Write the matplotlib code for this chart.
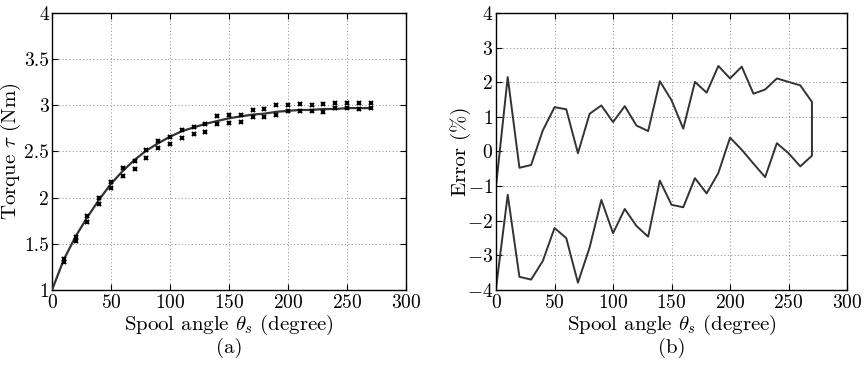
import numpy as np
import matplotlib
matplotlib.use("Agg")
import matplotlib.pyplot as plt

# 扭矩数据 (a)
angle = [0, 10, 20, 30, 40, 50, 60, 70, 80, 90, 100, 110, 120, 130,
         140, 150, 160, 170, 180, 190, 200, 210, 220, 230, 240, 250, 260, 270]
torque_model = [1.00, 1.33, 1.58, 1.79, 1.98, 2.15, 2.29, 2.41, 2.51, 2.59,
                2.66, 2.72, 2.76, 2.80, 2.83, 2.86, 2.88, 2.90, 2.91, 2.93,
                2.94, 2.95, 2.95, 2.96, 2.96, 2.97, 2.97, 2.97]
meas_angle = angle[1:]
torque_meas_hi = [1.34, 1.57, 1.80, 2.00, 2.17, 2.32, 2.40, 2.52, 2.61, 2.66,
                  2.73, 2.77, 2.80, 2.88, 2.89, 2.89, 2.95, 2.96, 3.00, 3.00,
                  3.01, 3.00, 3.01, 3.03, 3.03, 3.03, 3.02]
torque_meas_lo = [1.30, 1.53, 1.74, 1.93, 2.10, 2.23, 2.31, 2.43, 2.54, 2.58,
                  2.65, 2.69, 2.71, 2.80, 2.81, 2.82, 2.87, 2.87, 2.90, 2.94,
                  2.94, 2.94, 2.93, 2.97, 2.97, 2.96, 2.97]

# 误差数据 (b)
err_upper = [-1.00, 2.15, -0.47, -0.39, 0.61, 1.28, 1.22, -0.05, 1.09, 1.33,
             0.85, 1.31, 0.75, 0.59, 2.03, 1.48, 0.66, 2.01, 1.70, 2.47,
             2.11, 2.45, 1.67, 1.79, 2.11, 2.01, 1.91, 1.43]
err_lower = [-3.95, -1.25, -3.62, -3.70, -3.16, -2.21, -2.50, -3.79, -2.77, -1.40,
             -2.36, -1.66, -2.15, -2.46, -0.84, -1.54, -1.61, -0.77, -1.21, -0.62,
             0.40, 0.05, -0.35, -0.74, 0.24, -0.05, -0.43, -0.12]

plt.rcParams['font.family'] = 'cmr10'
plt.rcParams['mathtext.fontset'] = 'cm'
plt.rcParams['axes.formatter.use_mathtext'] = True
plt.rcParams['font.size'] = 15

fig = plt.figure(figsize=(8.64, 3.77), dpi=100)
ax1 = fig.add_axes([0.0602, 0.2308, 0.4097, 0.7347])
ax2 = fig.add_axes([0.5741, 0.2308, 0.4063, 0.7347])

line_col = '#333333'

ax1.plot(angle, torque_model, color=line_col, lw=1.6, zorder=3)
ax1.plot(meas_angle, torque_meas_hi, 'x', color='black', ms=3.5, mew=1.5, zorder=4)
ax1.plot(meas_angle, torque_meas_lo, 'x', color='black', ms=3.5, mew=1.5, zorder=4)
ax1.set_xlim(0, 300)
ax1.set_ylim(1, 4)
ax1.set_xticks(np.arange(0, 301, 50))
ax1.set_yticks(np.arange(1, 4.01, 0.5))
ax1.set_yticklabels(['1', '1.5', '2', '2.5', '3', '3.5', '4'])
ax1.set_xlabel(r'Spool angle $\theta_s$ (degree)', va='center')
ax1.set_ylabel(r'Torque $\tau$ (Nm)', va='center')
ax1.xaxis.set_label_coords(0.5, -0.126)
ax1.yaxis.set_label_coords(-0.115, 0.5)

# 上下两条误差曲线连成一条回路
loop_x = angle + angle[::-1]
loop_y = err_upper + err_lower[::-1]
ax2.plot(loop_x, loop_y, color=line_col, lw=1.4)
ax2.set_xlim(0, 300)
ax2.set_ylim(-4, 4)
ax2.set_xticks(np.arange(0, 301, 50))
ax2.set_yticks(np.arange(-4, 5, 1))
ax2.set_xlabel(r'Spool angle $\theta_s$ (degree)', va='center')
ax2.set_ylabel('Error (%)', va='center')
ax2.xaxis.set_label_coords(0.5, -0.126)
ax2.yaxis.set_label_coords(-0.102, 0.5)

for ax in (ax1, ax2):
    ax.grid(True, linestyle=(0, (1, 2.5)), color='#888888', lw=0.7)
    ax.tick_params(direction='in', top=True, right=True, length=4,
                   width=0.8, labelsize=14)
    ax.tick_params(axis='y', pad=2)
    ax.tick_params(axis='x', pad=3)
    for sp in ax.spines.values():
        sp.set_linewidth(1.0)

fig.text(0.265, 0.078, '(a)', ha='center', va='center', fontsize=15)
fig.text(0.778, 0.078, '(b)', ha='center', va='center', fontsize=15)

fig.savefig('out.png', dpi=100)
